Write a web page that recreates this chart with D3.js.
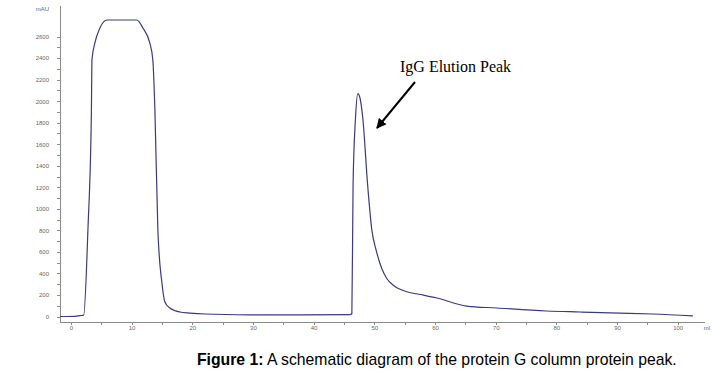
<!DOCTYPE html>
<html>
<head>
<meta charset="utf-8">
<script src="https://cdn.jsdelivr.net/npm/d3@7"></script>
<style>
  body { margin: 0; background: #fff; }
  .axis path, .axis line { stroke: #8a8a8a; shape-rendering: crispEdges; }
  .axis text { font-family: "Liberation Sans", Arial, sans-serif; font-size: 6px; fill: #666; }
</style>
</head>
<body>
<div id="viz"></div>
<script>
// elution volume (ml) and absorbance (mAU)
var volume = [-1.8, 0.7, 1.5, 2.1, 2.8, 3.38, 3.46, 3.95, 4.78, 5.93, 10.87, 11.86, 13.0, 13.5, 13.84, 14.33, 15.0, 15.49, 16.3, 17.96, 19.6, 22.1, 29.5, 38, 45.96,
              46.3, 46.5, 46.9, 47.28, 47.6, 48.1, 48.9, 49.6, 50.3, 51.2, 52.0, 53.3, 55.5, 58.0, 60.3, 65.2, 70.2, 78.4, 83.9, 90.4, 95.9, 102.5];
var absorb = [0, 2, 8, 12, 803, 1917, 2382, 2540, 2679, 2753, 2753, 2679, 2540, 2382, 1917, 803, 311, 135, 79, 42, 32, 23, 16, 15, 17,
              25, 1221, 1843, 2070, 2038, 1843, 1221, 800, 617, 450, 357, 283, 228, 200, 172, 97, 79, 51, 42, 32, 23, 5];

var xTicks = d3.range(0, 101, 5);
var yTicks = d3.range(0, 2601, 100);

var width = 713,
    height = 374;

var svg = d3.select("#viz").append("svg")
    .attr("width", width)
    .attr("height", height);

var x = d3.scaleLinear().domain([-1.8, 104.5]).range([60, 705]);
var y = d3.scaleLinear().domain([0, 2600]).range([316.5, 36.5]);

// y axis
var yAxis = d3.axisLeft(y)
    .tickValues(yTicks)
    .tickSize(3)
    .tickPadding(8)
    .tickFormat(function(d) { return d % 200 === 0 ? d : ""; });

var gy = svg.append("g")
    .attr("class", "axis")
    .attr("transform", "translate(" + x(-1.8) + ",0)")
    .call(yAxis);
gy.select(".domain").remove();
gy.append("line")
    .attr("y1", y(2880)).attr("y2", y(-60));

gy.append("text")
    .attr("x", -11).attr("y", 11)
    .attr("text-anchor", "end")
    .text("mAU");

// x axis
var xAxis = d3.axisBottom(x)
    .tickValues(xTicks)
    .tickSize(2)
    .tickPadding(1)
    .tickFormat(function(d) { return d % 10 === 0 ? d : ""; });

var gx = svg.append("g")
    .attr("class", "axis")
    .attr("transform", "translate(0," + y(-60) + ")")
    .call(xAxis);
gx.select(".domain").remove();
gx.append("line")
    .attr("x1", x(-1.8)).attr("x2", x(104.5));
gx.append("text")
    .attr("x", x(104.8)).attr("y", 7.3)
    .attr("text-anchor", "middle")
    .text("ml");

// chromatogram trace
var line = d3.line()
    .x(function(d) { return x(d[0]); })
    .y(function(d) { return y(d[1]); })
    .curve(d3.curveMonotoneX);

svg.append("path")
    .datum(d3.zip(volume, absorb))
    .attr("d", line)
    .attr("fill", "none")
    .attr("stroke", "#3a3a7c")
    .attr("stroke-width", 1.2);

// annotation
svg.append("defs").append("marker")
    .attr("id", "head")
    .attr("viewBox", "0 0 10 10")
    .attr("refX", 9).attr("refY", 5)
    .attr("markerWidth", 5).attr("markerHeight", 5)
    .attr("orient", "auto")
  .append("path")
    .attr("d", "M0,0L10,5L0,10z")
    .attr("fill", "#000");

svg.append("line")
    .attr("x1", 415).attr("y1", 82)
    .attr("x2", 377).attr("y2", 128)
    .attr("stroke", "#000")
    .attr("stroke-width", 2)
    .attr("marker-end", "url(#head)");

svg.append("text")
    .attr("x", 400).attr("y", 72)
    .style("font-family", "'Liberation Serif', 'Times New Roman', serif")
    .style("font-size", "16px")
    .text("IgG Elution Peak");

// caption
var cap = svg.append("text")
    .attr("x", 197).attr("y", 365)
    .style("font-family", "'Liberation Sans', Arial, sans-serif")
    .style("font-size", "18px")
    .attr("fill", "#000");
cap.append("tspan").style("font-weight", "bold").text("Figure 1:");
cap.append("tspan").text(" A schematic diagram of the protein G column protein peak.");

// fit caption to the width it spans in the figure
var w = cap.node().getComputedTextLength();
cap.style("font-size", (18 * 480 / w) + "px");
</script>
</body>
</html>
